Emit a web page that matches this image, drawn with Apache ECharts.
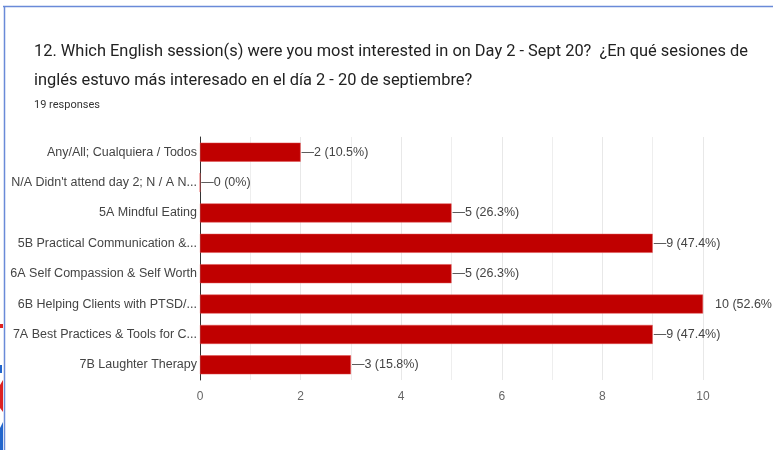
<!DOCTYPE html>
<html><head><meta charset="utf-8">
<script src="https://cdn.jsdelivr.net/npm/echarts@6/dist/echarts.min.js"></script>
<style>html,body{margin:0;padding:0;background:#fff}#c{width:773px;height:450px}</style>
</head><body><div id="c"></div>
<script>
const categories = [
  "Any/All; Cualquiera / Todos",
  "N/A Didn't attend day 2; N / A N...",
  "5A Mindful Eating",
  "5B Practical Communication &...",
  "6A Self Compassion & Self Worth",
  "6B Helping Clients with PTSD/...",
  "7A Best Practices & Tools for C...",
  "7B Laughter Therapy"
];
const counts = [2, 0, 5, 9, 5, 10, 9, 3];
const percents = ["10.5%", "0%", "26.3%", "47.4%", "26.3%", "52.6%", "47.4%", "15.8%"];
const xTicks = [0, 2, 4, 6, 8, 10];

const chart = echarts.init(document.getElementById('c'), null, {renderer: 'canvas'});
const font = 'Roboto, "Liberation Sans", Arial, sans-serif';
const afont = '"Liberation Sans", Arial, sans-serif';

const data = counts.map((v, i) => ({
  value: v,
  label: v === 10 ? {
    formatter: v + ' (' + percents[i],
    distance: 12
  } : {}
}));

chart.setOption({
  backgroundColor: '#fff',
  animation: false,
  title: [
    {
      text: "12. Which English session(s) were you most interested in on Day 2 - Sept 20?  ¿En qué sesiones de\ninglés estuvo más interesado en el día 2 - 20 de septiembre?",
      left: 29, top: 32,
      textStyle: {fontFamily: font, fontSize: 16.4, fontWeight: 'normal', color: '#222', lineHeight: 29}
    },
    {
      text: "19 responses",
      left: 29, top: 95,
      textStyle: {fontFamily: font, fontSize: 11, fontWeight: 'normal', color: '#333'}
    }
  ],
  grid: {left: 200, right: 70, top: 137, bottom: 70, containLabel: false},
  xAxis: {
    type: 'value', min: 0, max: 10, interval: 2,
    axisLine: {show: false},
    axisTick: {show: false},
    axisLabel: {fontFamily: afont, fontSize: 12, color: '#666', margin: 11,
      formatter: v => xTicks.includes(v) ? String(v) : ''},
    splitLine: {show: true, lineStyle: {color: '#e8e8e8', width: 1}},
    minorTick: {show: false, splitNumber: 2},
    minorSplitLine: {show: true, lineStyle: {color: '#eeeeee', width: 1}}
  },
  yAxis: {
    type: 'category', inverse: true, data: categories,
    axisLine: {show: true, lineStyle: {color: '#333', width: 1}},
    axisTick: {show: false},
    axisLabel: {fontFamily: afont, fontSize: 12.5, color: '#444', margin: 3}
  },
  series: [{
    type: 'bar', data: data, barWidth: 19,
    itemStyle: {color: '#c00000', borderColor: '#e05050', borderWidth: 0.5},
    label: {
      show: true, position: 'right', distance: 1,
      fontFamily: afont, fontSize: 12.5, color: '#444',
      formatter: p => '—' + p.value + ' (' + percents[p.dataIndex] + ')'
    }
  }],
  graphic: [
    {type: 'line', shape: {x1: 3, y1: 6.5, x2: 773, y2: 6.5}, style: {stroke: '#6a8ad8', lineWidth: 1.5}},
    {type: 'line', shape: {x1: 4.5, y1: 6, x2: 4.5, y2: 450}, style: {stroke: '#6a8ad8', lineWidth: 1.5}},
    {type: 'rect', shape: {x: 0, y: 324, width: 3, height: 4}, style: {fill: '#d22'}},
    {type: 'polygon', shape: {points: [[0, 385], [3, 380], [3, 412], [0, 408]]}, style: {fill: '#d22'}},
    {type: 'polygon', shape: {points: [[0, 428], [3, 422], [3, 450], [0, 450]]}, style: {fill: '#2266cc'}},
    {type: 'rect', shape: {x: 0, y: 365, width: 2, height: 8}, style: {fill: '#2266cc'}}
  ]
});
</script></body></html>
